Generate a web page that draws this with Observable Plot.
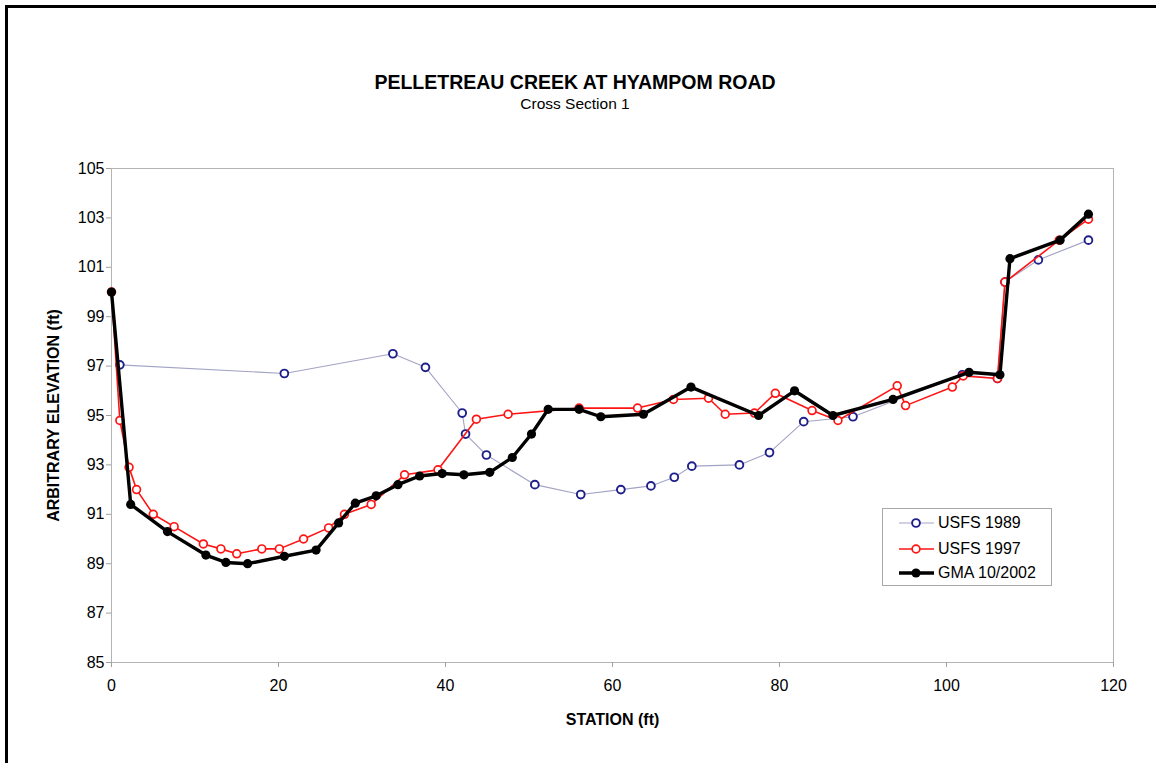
<!DOCTYPE html>
<html>
<head>
<meta charset="utf-8">
<script src="https://cdn.jsdelivr.net/npm/d3@7"></script>
<script src="https://cdn.jsdelivr.net/npm/@observablehq/plot@0.6"></script>
<style>
  body { margin: 0; background: #fff; font-family: "Liberation Sans", Arial, sans-serif; }
  #wrap { position: relative; width: 1156px; height: 763px; overflow: hidden; background: #fff; }
  #border { position: absolute; left: 5px; top: 5px; width: 1300px; height: 900px; border-top: 3px solid #000; border-left: 3px solid #000; }
  #chart { position: absolute; left: 0; top: 0; }
  #title { position: absolute; left: 0; width: 1150px; top: 71px; text-align: center; font-weight: bold; font-size: 19.5px; color: #000; }
  #subtitle { position: absolute; left: 0; width: 1150px; top: 95px; text-align: center; font-size: 15.5px; color: #000; }
  #legend { position: absolute; left: 882px; top: 508px; width: 170px; height: 78px; border: 1px solid #a8a8a8; background: #fff; box-sizing: border-box; }
  .row { position: absolute; left: 0; height: 20px; display: flex; align-items: center; font-size: 16px; color: #000; }
  .row svg { display: block; }
  g[aria-label="x-axis label"], g[aria-label="y-axis label"] { font-weight: bold; }
</style>
</head>
<body>
<div id="wrap">
  <div id="border"></div>
  <div id="chart"></div>
  <div id="title">PELLETREAU CREEK AT HYAMPOM ROAD</div>
  <div id="subtitle">Cross Section 1</div>
  <div id="legend"></div>
</div>
<script>
// ---- Data ----
const seriesNames = ["USFS 1989", "USFS 1997", "GMA 10/2002"];

const usfs1989Station = [1.0, 20.7, 33.7, 37.6, 42.0, 42.4, 44.9, 50.7, 56.2, 61.0, 64.6, 67.4, 69.5, 75.2, 78.8, 82.9, 88.8, 101.9, 106.1, 107.0, 111.0, 117.0];
const usfs1989Elev    = [97.05, 96.7, 97.5, 96.95, 95.1, 94.25, 93.4, 92.2, 91.8, 92.0, 92.15, 92.5, 92.95, 93.0, 93.5, 94.75, 94.95, 96.65, 96.5, 100.4, 101.3, 102.1];

const usfs1997Station = [0, 1.0, 2.1, 3.0, 5.0, 7.5, 11.0, 13.1, 15.0, 18.0, 20.1, 23.0, 26.0, 27.9, 31.1, 35.1, 39.1, 43.7, 47.5, 56.0, 63.0, 67.3, 71.5, 73.5, 77.0, 79.5, 83.9, 87.0, 94.1, 95.1, 100.7, 102.0, 106.1, 107.0, 113.5, 117.0];
const usfs1997Elev    = [100.0, 94.8, 92.9, 92.0, 91.0, 90.5, 89.8, 89.6, 89.4, 89.6, 89.6, 90.0, 90.45, 91.0, 91.4, 92.6, 92.8, 94.85, 95.05, 95.3, 95.3, 95.65, 95.7, 95.05, 95.1, 95.9, 95.2, 94.8, 96.2, 95.4, 96.15, 96.6, 96.5, 100.4, 102.1, 102.95];

const gmaStation = [0, 2.3, 6.7, 11.3, 13.7, 16.3, 20.7, 24.5, 27.2, 29.2, 31.7, 34.3, 36.9, 39.6, 42.2, 45.3, 48.0, 50.3, 52.3, 56.0, 58.6, 63.7, 69.4, 77.5, 81.8, 86.4, 93.6, 102.7, 106.4, 107.6, 113.6, 117.0];
const gmaElev    = [100.0, 91.4, 90.3, 89.35, 89.05, 89.0, 89.3, 89.55, 90.65, 91.45, 91.75, 92.2, 92.55, 92.65, 92.6, 92.7, 93.3, 94.25, 95.25, 95.25, 94.95, 95.05, 96.15, 95.0, 96.0, 95.0, 95.65, 96.75, 96.65, 101.35, 102.1, 103.15];

const xTicks = [0, 20, 40, 60, 80, 100, 120];
const yTicks = [85, 87, 89, 91, 93, 95, 97, 99, 101, 103, 105];

// ---- Build tables ----
const toRows = (xs, ys) => xs.map((x, i) => ({station: x, elev: ys[i]}));
const s1989 = toRows(usfs1989Station, usfs1989Elev);
const s1997 = toRows(usfs1997Station, usfs1997Elev);
const sGma = toRows(gmaStation, gmaElev);

const styles = [
  {line: "#a3a3c6", lineWidth: 1.1, dot: "#1f1f8c", dotFill: "#fff", dotStrokeWidth: 1.9, r: 3.9},
  {line: "#ff1414", lineWidth: 1.6, dot: "#ff1414", dotFill: "#fff", dotStrokeWidth: 1.7, r: 3.9},
  {line: "#000000", lineWidth: 3.4, dot: "#000000", dotFill: "#000", dotStrokeWidth: 0, r: 4.6}
];

const seriesData = [s1989, s1997, sGma];

const marks = [
  Plot.frame({stroke: "#b4b4b4", strokeWidth: 1}),
  Plot.axisX({ticks: xTicks, tickSize: 5, tickPadding: 12, stroke: "#a0a0a0", fill: "#000",
    label: "STATION (ft)", labelAnchor: "center", labelArrow: "none", labelOffset: 62, tickFormat: d => String(d)}),
  Plot.axisY({ticks: yTicks, tickSize: 5, tickPadding: 2, stroke: "#a0a0a0", fill: "#000",
    label: "ARBITRARY ELEVATION (ft)", labelAnchor: "center", labelArrow: "none", labelOffset: 64, tickFormat: d => String(d)})
];
seriesData.forEach((data, i) => {
  const s = styles[i];
  marks.push(Plot.line(data, {x: "station", y: "elev", stroke: s.line, strokeWidth: s.lineWidth, curve: "linear"}));
  marks.push(Plot.dot(data, {x: "station", y: "elev", r: s.r, stroke: s.dotStrokeWidth ? s.dot : "none", strokeWidth: s.dotStrokeWidth, fill: s.dotFill}));
});

const chart = Plot.plot({
  width: 1156,
  height: 763,
  marginLeft: 111,
  marginRight: 43,
  marginTop: 168,
  marginBottom: 101,
  style: {fontFamily: "'Liberation Sans', Arial, sans-serif", fontSize: "16px", background: "transparent", color: "#000", overflow: "visible"},
  x: {domain: [0, 120]},
  y: {domain: [85, 105]},
  marks
});
document.getElementById("chart").appendChild(chart);

// ---- Legend ----
const legend = document.getElementById("legend");
const rowTops = [4, 29.5, 54];
seriesNames.forEach((name, i) => {
  const s = styles[i];
  const row = document.createElement("div");
  row.className = "row";
  row.style.top = rowTops[i] + "px";
  const ns = "http://www.w3.org/2000/svg";
  const svg = document.createElementNS(ns, "svg");
  svg.setAttribute("width", 54);
  svg.setAttribute("height", 20);
  const ln = document.createElementNS(ns, "line");
  ln.setAttribute("x1", 16); ln.setAttribute("x2", 51);
  ln.setAttribute("y1", 10); ln.setAttribute("y2", 10);
  ln.setAttribute("stroke", s.line); ln.setAttribute("stroke-width", s.lineWidth);
  svg.appendChild(ln);
  const c = document.createElementNS(ns, "circle");
  c.setAttribute("cx", 33); c.setAttribute("cy", 10); c.setAttribute("r", s.r);
  c.setAttribute("fill", s.dotFill);
  if (s.dotStrokeWidth) { c.setAttribute("stroke", s.dot); c.setAttribute("stroke-width", s.dotStrokeWidth); }
  svg.appendChild(c);
  row.appendChild(svg);
  const t = document.createElement("span");
  t.textContent = name;
  t.style.marginLeft = "1px";
  row.appendChild(t);
  legend.appendChild(row);
});
</script>
</body>
</html>
